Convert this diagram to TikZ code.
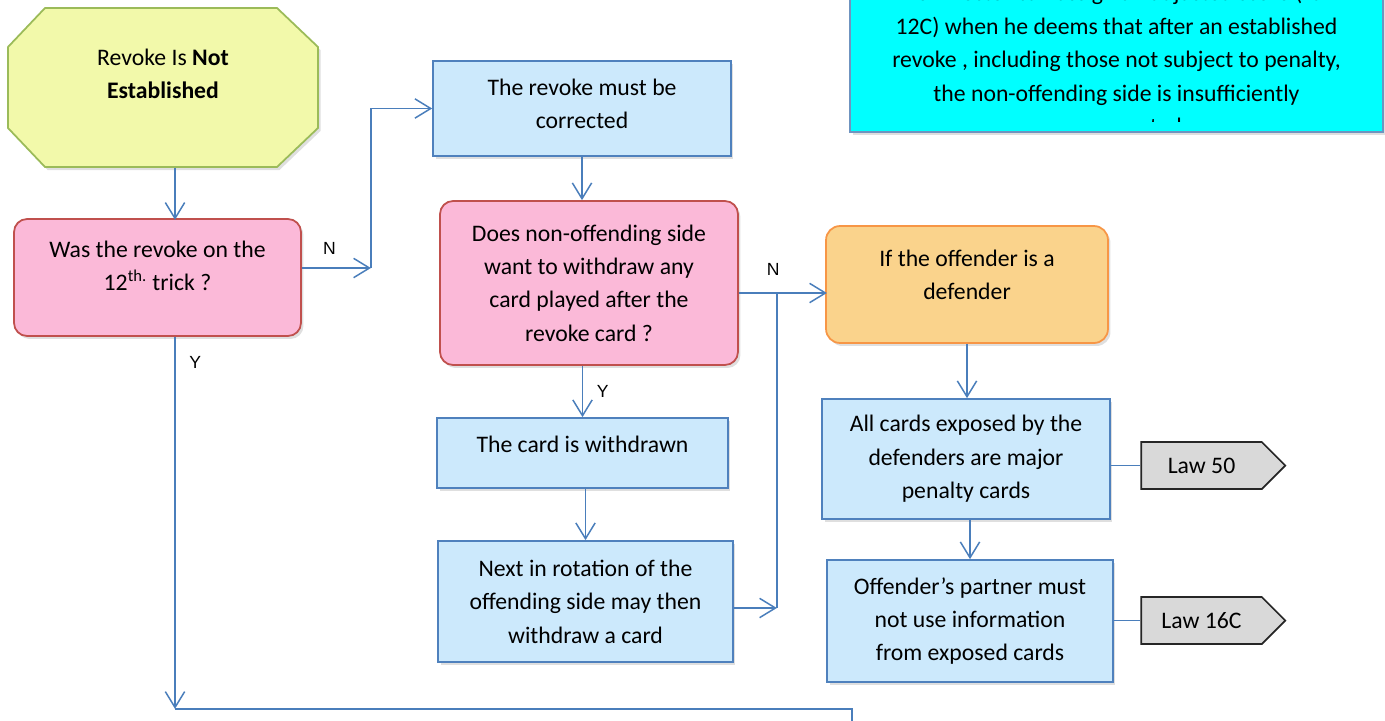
\documentclass[tikz,border=0pt]{standalone}
\usepackage{fontspec}
\setmainfont{Carlito}
\newfontfamily\labfont{Liberation Sans}
\usepackage{tikz}
\usetikzlibrary{arrows.meta,shadows,shapes.symbols}
\definecolor{flowline}{HTML}{4A7EBB}
\definecolor{startfill}{HTML}{F2F9AA}
\definecolor{startedge}{HTML}{9BBB59}
\definecolor{askfill}{HTML}{FBB9D8}
\definecolor{askedge}{HTML}{C0504D}
\definecolor{stepfill}{HTML}{CCE9FC}
\definecolor{stepedge}{HTML}{4F81BD}
\definecolor{casefill}{HTML}{FAD38C}
\definecolor{caseedge}{HTML}{F79646}
\definecolor{lawfill}{HTML}{D9D9D9}
\definecolor{notefill}{HTML}{00FFFF}
\definecolor{noteedge}{HTML}{6F94C0}
\newcommand{\lift}[1]{\rule[-#1]{0pt}{#1}}

\tikzset{
  boxfont/.style={font=\fontsize{13.5}{19}\selectfont},
  box/.style={draw, line width=1pt, align=center, inner sep=2pt, boxfont,
    drop shadow={shadow xshift=0.05cm, shadow yshift=-0.06cm, opacity=0.25}},
  askbox/.style={box, fill=askfill, draw=askedge, rounded corners=0.26cm},
  stepbox/.style={box, fill=stepfill, draw=stepedge},
  casebox/.style={box, fill=casefill, draw=caseedge, rounded corners=0.28cm},
  lawtag/.style={draw=black!85, fill=lawfill, line width=1pt, shape=signal,
    signal to=east, signal pointer angle=90, minimum width=2.88cm,
    minimum height=0.94cm, boxfont, inner sep=2pt},
  flow/.style={draw=flowline, line width=0.85pt, -{Straight Barb[length=9pt,width=11pt]}},
  link/.style={draw=flowline, line width=0.85pt},
  lab/.style={font=\labfont\fontsize{10}{12}\selectfont, inner sep=2pt},
}

\begin{document}
\begin{tikzpicture}[x=0.02cm, y=-0.02cm]
  \useasboundingbox (0,0) rectangle (1385,720);
  \clip (0,0) rectangle (1385,720);

  % start shape
  \filldraw[fill=startfill, draw=startedge, line width=1pt,
    drop shadow={shadow xshift=0.05cm, shadow yshift=-0.06cm, opacity=0.25}]
    (8,47) -- (45,8) -- (277,8) -- (318,47) -- (318,128) -- (277,167) -- (45,167) -- (8,128) -- cycle;
  \node[minimum width=6.2cm, minimum height=3.18cm, align=center, boxfont] (start) at (163,88)
    {Revoke Is \textbf{Not}\\\textbf{Established}\lift{0.56cm}};

  % left and middle column
  \node[askbox, minimum width=5.74cm, minimum height=2.34cm] (q12) at (157.5,277.5)
    {Was the revoke on the\\12\textsuperscript{th.} trick ?\lift{0.48cm}};
  \node[stepbox, minimum width=5.96cm, minimum height=1.9cm] (fix) at (582,108.5)
    {The revoke must be\\corrected\lift{0.2cm}};
  \node[askbox, minimum width=5.96cm, minimum height=3.28cm] (qwd) at (589,283)
    {Does non-offending side\\want to withdraw any\\card played after the\\revoke card ?};
  \node[stepbox, minimum width=5.82cm, minimum height=1.4cm] (wd) at (582.5,453)
    {The card is withdrawn\lift{0.36cm}};
  \node[stepbox, minimum width=5.9cm, minimum height=2.42cm] (next) at (585.5,601.5)
    {Next in rotation of the\\offending side may then\\withdraw a card};

  % right column
  \node[casebox, minimum width=5.64cm, minimum height=2.34cm] (defq) at (967,284.5)
    {If the offender is a\\defender\lift{0.4cm}};
  \node[stepbox, minimum width=5.76cm, minimum height=2.4cm] (major) at (966,459)
    {All cards exposed by the\\defenders are major\\penalty cards};
  \node[stepbox, minimum width=5.72cm, minimum height=2.44cm] (partner) at (970,621)
    {Offender’s partner must\\not use information\\from exposed cards};
  \node[lawtag] (law50) at (1201.5,465.5) {Law 50};
  \node[lawtag] (law16) at (1201.5,620.5) {Law 16C};

  % note box, text cut off by the box
  \node[box, fill=notefill, draw=noteedge, line width=1.5pt, minimum width=10.66cm, minimum height=3.44cm] (note) at (1116.5,46) {};
  \begin{scope}
    \clip (852,0) rectangle (1381,121);
    \node[align=center, boxfont] (notetext) at ([yshift=-0.3cm]note.center)
      {The Director can assign an adjusted score (Law\\12C) when he deems that after an established\\revoke , including those not subject to penalty,\\the non-offending side is insufficiently\\compensated};
  \end{scope}

  % connectors
  \draw[flow] ([xshift=0.24cm]start.south) -- ++(0,52);
  \draw[flow] ([yshift=0.19cm]q12.east) -- node[lab, pos=0.4, above=0.18cm] {N} ++(69,0) coordinate (nbend);
  \draw[flow] (nbend) |- (fix.west);
  \draw[flow] (fix.south) -- (fix.south |- qwd.north);
  \draw[flow] (wd.north |- qwd.south) -- node[lab, right=0.2cm] {Y} (wd.north);
  \draw[flow] (next.north |- wd.south) -- (next.north);
  \draw[flow] ([yshift=-0.2cm]qwd.east) -- node[lab, pos=0.39, above=0.26cm] {N} ++(88,0);
  \draw[flow] ([yshift=-0.13cm]next.east) -- ++(43,0) coordinate (njoin);
  \draw[link] (njoin) -- ++(0,-314);
  \draw[flow] (defq.south) -- (defq.south |- major.north);
  \draw[flow] (partner.north |- major.south) -- (partner.north);
  \draw[link] (law50.west -| major.east) -- (law50.west);
  \draw[link] (law16.west -| partner.east) -- (law16.west);
  \draw[flow] ([xshift=0.35cm]q12.south) -- node[lab, pos=0.07, right=0.2cm] {Y} ++(0,372) coordinate (ybot);
  \draw[link] (ybot) -- ++(677,0) -- ++(0,30);
\end{tikzpicture}
\end{document}
